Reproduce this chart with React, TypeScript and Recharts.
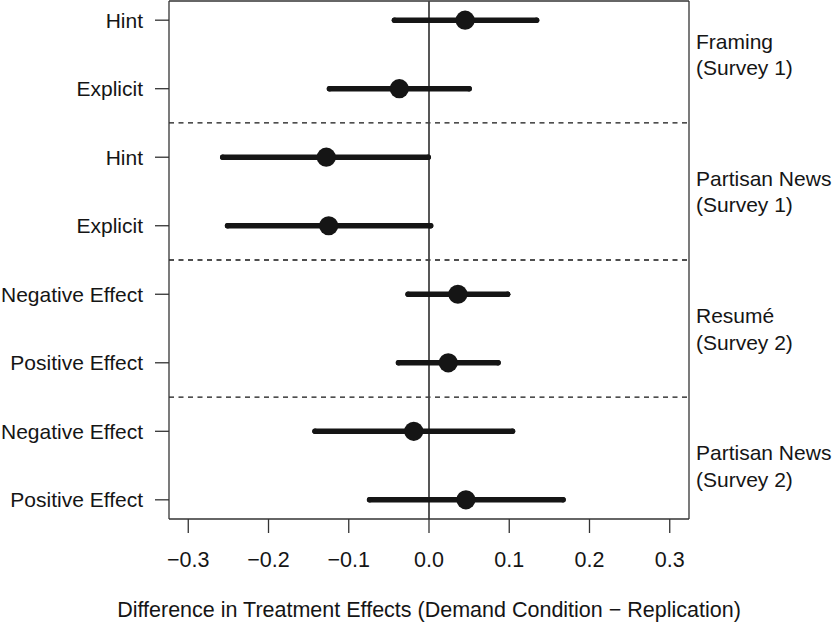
import React from "react";
import {
  ScatterChart,
  Scatter,
  XAxis,
  YAxis,
  ErrorBar,
  ReferenceLine,
} from "recharts";

const rowLabels = [
  "Hint",
  "Explicit",
  "Hint",
  "Explicit",
  "Negative Effect",
  "Positive Effect",
  "Negative Effect",
  "Positive Effect",
];
const estimates = [0.045, -0.037, -0.128, -0.125, 0.036, 0.024, -0.019, 0.046];
const lowers = [-0.043, -0.124, -0.257, -0.251, -0.026, -0.038, -0.142, -0.074];
const uppers = [0.134, 0.05, -0.001, 0.002, 0.098, 0.086, 0.104, 0.167];

const groupPositions = [1.5, 3.5, 5.5, 7.5];
const groupLines1 = ["Framing", "Partisan News", "Resumé", "Partisan News"];
const groupLines2 = ["(Survey 1)", "(Survey 1)", "(Survey 2)", "(Survey 2)"];
const groupBreaks = [2.5, 4.5, 6.5];

const xTicks = [-0.3, -0.2, -0.1, 0.0, 0.1, 0.2, 0.3];
const X_DOMAIN: [number, number] = [-0.324, 0.324];
const Y_DOMAIN: [number, number] = [0.72, 8.28];
const rowTicks = rowLabels.map((_, i) => i + 1);

const data = estimates.map((est, i) => ({
  x: est,
  y: i + 1,
  err: [est - lowers[i], uppers[i] - est],
}));

const FONT = "'Liberation Sans', Arial, Helvetica, sans-serif";
const FS = 21;
const FS_X = 21.5;
const INK = "#151515";
const LINE = "#333";

const fmtX = (v: number) => {
  const s = Math.abs(v).toFixed(1);
  return v < -1e-9 ? "\u2212" + s : s;
};

const GroupTick = (props: any) => {
  const { x, y, payload } = props;
  const idx = groupPositions.indexOf(payload.value);
  if (idx < 0) return null;
  return (
    <text
      x={x}
      y={y}
      fontFamily={FONT}
      fontSize={FS}
      fill={INK}
      textAnchor="start"
    >
      <tspan x={x} dy={-13 + 7.5}>
        {groupLines1[idx]}
      </tspan>
      <tspan x={x} dy={26.5}>
        {groupLines2[idx]}
      </tspan>
    </text>
  );
};

const Dot = (props: any) => (
  <circle cx={props.cx} cy={props.cy} r={9.6} fill={INK} />
);

export default function App() {
  return (
    <div style={{ position: "absolute", left: 0, top: 0, background: "#fff" }}>
      <ScatterChart
        width={833}
        height={623}
        margin={{ top: 1, right: 0, bottom: 0, left: 0 }}
      >
        <XAxis
          type="number"
          dataKey="x"
          domain={X_DOMAIN}
          allowDataOverflow
          ticks={xTicks}
          interval={0}
          tickFormatter={fmtX}
          height={104}
          tickSize={14}
          tickMargin={19}
          axisLine={{ stroke: LINE, strokeWidth: 1.3 }}
          tickLine={{ stroke: LINE, strokeWidth: 1.3 }}
          tick={{ fontFamily: FONT, fontSize: FS_X, fill: INK }}
          label={{
            value:
              "Difference in Treatment Effects (Demand Condition \u2212 Replication)",
            position: "insideBottom",
            offset: 6,
            fontFamily: FONT,
            fontSize: FS_X,
            fill: INK,
          }}
        />
        <YAxis
          type="number"
          dataKey="y"
          domain={Y_DOMAIN}
          allowDataOverflow
          reversed
          ticks={rowTicks}
          interval={0}
          tickFormatter={(v: number) => rowLabels[v - 1] ?? ""}
          width={169}
          tickSize={14}
          tickMargin={12}
          axisLine={{ stroke: LINE, strokeWidth: 1.3 }}
          tickLine={{ stroke: LINE, strokeWidth: 1.3 }}
          tick={{ fontFamily: FONT, fontSize: FS, fill: INK }}
        />
        <YAxis
          yAxisId="right"
          orientation="right"
          type="number"
          domain={Y_DOMAIN}
          allowDataOverflow
          reversed
          ticks={groupPositions}
          interval={0}
          width={144}
          tickSize={0}
          tickMargin={7}
          tickLine={false}
          axisLine={{ stroke: LINE, strokeWidth: 1.3 }}
          tick={<GroupTick />}
        />
        <ReferenceLine y={Y_DOMAIN[0]} stroke={LINE} strokeWidth={1.3} />
        {groupBreaks.map((b) => (
          <ReferenceLine
            key={b}
            y={b}
            stroke={INK}
            strokeWidth={1.3}
            strokeDasharray="5 4.5"
          />
        ))}
        <ReferenceLine x={0} stroke="#444" strokeWidth={1.8} />
        <Scatter data={data} shape={<Dot />} isAnimationActive={false}>
          <ErrorBar
            dataKey="err"
            direction="x"
            width={0}
            stroke={INK}
            strokeWidth={5.5}
            strokeLinecap="round"
            isAnimationActive={false}
          />
        </Scatter>
      </ScatterChart>
    </div>
  );
}
